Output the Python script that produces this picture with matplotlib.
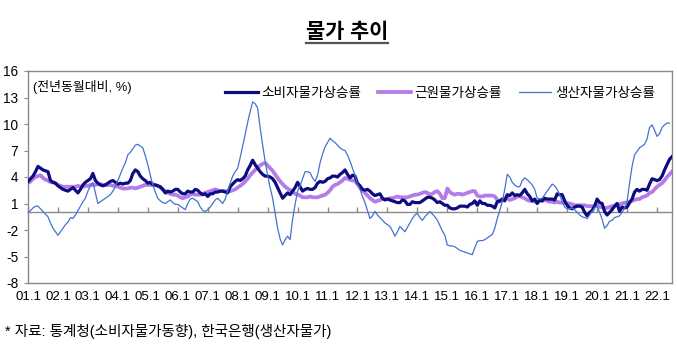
import matplotlib.pyplot as plt
import numpy as np
from matplotlib.lines import Line2D

plt.rcParams['font.family'] = ['Liberation Sans', 'Noto Sans CJK KR']
plt.rcParams['axes.unicode_minus'] = False

# monthly, year-on-year %, 2001.1 ~ 2022.7
cpi = [
    3.5, 3.8, 4.1, 4.6, 5.2, 5.0, 4.8, 4.7, 4.6, 3.6, 3.4, 3.3,   # 2001
    3.0, 2.8, 2.6, 2.5, 2.4, 2.6, 2.8, 2.5, 2.2, 2.6, 3.1, 3.4,   # 2002
    3.6, 3.8, 4.4, 3.6, 3.3, 3.1, 3.0, 3.1, 3.3, 3.5, 3.6, 3.4,   # 2003
    3.2, 3.3, 3.2, 3.3, 3.3, 3.6, 4.4, 4.8, 4.6, 4.1, 3.8, 3.6,   # 2004
    3.3, 3.4, 3.1, 3.1, 3.0, 2.9, 2.6, 2.2, 2.4, 2.3, 2.4, 2.6,   # 2005
    2.6, 2.3, 2.1, 2.1, 2.4, 2.3, 2.3, 2.6, 2.5, 2.2, 2.0, 2.1,   # 2006
    1.8, 2.1, 2.1, 2.3, 2.3, 2.4, 2.4, 2.3, 2.2, 2.9, 3.2, 3.5,   # 2007
    3.7, 3.6, 3.8, 4.1, 4.8, 5.3, 5.9, 5.4, 5.0, 4.6, 4.3, 4.1,   # 2008
    4.1, 4.0, 3.8, 3.4, 2.8, 2.2, 1.6, 1.9, 2.2, 2.0, 2.4, 2.8,   # 2009
    3.4, 2.9, 2.4, 2.6, 2.7, 2.6, 2.6, 2.8, 3.3, 3.5, 3.4, 3.5,   # 2010
    3.8, 3.9, 4.1, 4.1, 4.0, 4.3, 4.5, 4.8, 4.3, 3.9, 4.2, 4.1,   # 2011
    3.3, 3.0, 2.6, 2.5, 2.6, 2.4, 2.1, 1.9, 2.0, 2.1, 1.6, 1.4,   # 2012
    1.5, 1.4, 1.3, 1.2, 1.1, 1.1, 1.4, 1.3, 0.9, 0.9, 1.2, 1.1,   # 2013
    1.1, 1.1, 1.3, 1.5, 1.7, 1.7, 1.6, 1.4, 1.1, 1.2, 1.0, 0.8,   # 2014
    0.8, 0.5, 0.4, 0.4, 0.5, 0.7, 0.7, 0.7, 0.6, 0.9, 1.0, 1.3,   # 2015
    0.8, 1.3, 1.0, 1.0, 0.8, 0.8, 0.7, 0.5, 1.2, 1.3, 1.5, 1.3,   # 2016
    2.0, 1.9, 2.2, 1.9, 2.0, 1.9, 2.2, 2.6, 2.1, 1.8, 1.3, 1.5,   # 2017
    1.0, 1.4, 1.3, 1.6, 1.5, 1.5, 1.5, 1.4, 2.1, 2.0, 2.0, 1.3,   # 2018
    0.8, 0.5, 0.4, 0.6, 0.7, 0.7, 0.6, 0.0, -0.4, 0.0, 0.2, 0.7,  # 2019
    1.5, 1.1, 1.0, 0.1, -0.3, 0.0, 0.3, 0.7, 1.0, 0.1, 0.6, 0.5,  # 2020
    0.6, 1.1, 1.5, 2.3, 2.6, 2.4, 2.6, 2.6, 2.5, 3.2, 3.8, 3.7,   # 2021
    3.6, 3.7, 4.1, 4.8, 5.4, 6.0, 6.3,                            # 2022
]

core = [
    3.3, 3.5, 3.8, 4.0, 4.1, 4.2, 3.9, 3.7, 3.6, 3.4, 3.4, 3.3,   # 2001
    3.1, 3.0, 2.9, 2.9, 2.9, 2.9, 2.9, 2.9, 3.0, 2.9, 2.9, 3.0,   # 2002
    3.0, 3.1, 3.1, 3.1, 3.2, 3.2, 3.1, 3.1, 3.1, 3.1, 3.0, 3.0,   # 2003
    2.9, 2.8, 2.7, 2.7, 2.7, 2.8, 2.8, 2.7, 2.8, 2.9, 3.0, 3.1,   # 2004
    3.1, 3.1, 3.2, 3.1, 3.0, 2.8, 2.6, 2.4, 2.2, 2.1, 2.0, 2.0,   # 2005
    1.9, 1.7, 1.6, 1.7, 1.8, 2.0, 2.1, 2.0, 2.0, 2.0, 2.1, 2.2,   # 2006
    2.3, 2.4, 2.5, 2.6, 2.5, 2.4, 2.4, 2.4, 2.4, 2.4, 2.5, 2.6,   # 2007
    2.8, 3.0, 3.2, 3.5, 3.8, 4.2, 4.5, 4.8, 5.1, 5.3, 5.5, 5.6,   # 2008
    5.3, 5.0, 4.7, 4.3, 3.9, 3.5, 3.2, 2.9, 2.7, 2.5, 2.3, 2.1,   # 2009
    2.0, 1.9, 1.7, 1.7, 1.7, 1.8, 1.7, 1.7, 1.7, 1.8, 1.9, 2.0,   # 2010
    2.2, 2.5, 2.9, 3.1, 3.2, 3.4, 3.6, 3.9, 3.8, 3.7, 3.6, 3.6,   # 2011
    3.2, 2.8, 2.5, 2.2, 1.9, 1.6, 1.4, 1.2, 1.3, 1.4, 1.5, 1.5,   # 2012
    1.5, 1.6, 1.6, 1.7, 1.8, 1.7, 1.7, 1.7, 1.7, 1.8, 1.9, 2.0,   # 2013
    2.0, 2.1, 2.2, 2.3, 2.2, 2.0, 2.1, 2.3, 2.4, 2.1, 1.6, 1.6,   # 2014
    2.7, 2.3, 2.1, 2.0, 2.1, 2.1, 2.0, 2.1, 2.2, 2.3, 2.4, 2.4,   # 2015
    1.9, 1.8, 1.8, 1.9, 1.9, 1.9, 1.9, 1.8, 1.4, 1.2, 1.4, 1.6,   # 2016
    1.6, 1.4, 1.5, 1.6, 1.8, 1.8, 1.7, 1.6, 1.4, 1.3, 1.3, 1.2,   # 2017
    1.2, 1.3, 1.3, 1.4, 1.3, 1.2, 1.2, 1.1, 1.2, 1.1, 1.1, 1.1,   # 2018
    1.0, 1.0, 0.9, 0.8, 0.8, 0.8, 0.8, 0.8, 0.7, 0.7, 0.7, 0.7,   # 2019
    0.8, 0.6, 0.6, 0.5, 0.5, 0.6, 0.7, 0.7, 0.9, 0.9, 1.0, 1.1,   # 2020
    1.1, 1.2, 1.3, 1.4, 1.5, 1.5, 1.7, 1.8, 1.9, 2.2, 2.3, 2.6,   # 2021
    2.9, 3.1, 3.3, 3.6, 4.0, 4.3, 4.6,                            # 2022
]

# producer prices: one month shorter (to 2022.6)
ppi = [
    -0.1, 0.2, 0.5, 0.7, 0.7, 0.4, 0.1, -0.2, -0.5, -1.2, -1.8, -2.2,   # 2001
    -2.6, -2.2, -1.8, -1.4, -1.1, -0.6, -0.7, -0.3, 0.2, 0.7, 1.2, 1.6, # 2002
    2.4, 3.0, 3.4, 2.2, 1.0, 1.2, 1.4, 1.6, 1.8, 2.0, 2.4, 2.9,         # 2003
    3.6, 4.3, 5.0, 5.6, 6.5, 6.8, 7.2, 7.6, 7.7, 7.5, 7.3, 6.4,         # 2004
    5.4, 4.2, 3.1, 2.3, 1.6, 1.3, 1.1, 1.0, 1.2, 1.4, 1.1, 0.9,         # 2005
    0.9, 0.7, 0.5, 0.3, 1.0, 1.5, 1.6, 1.4, 1.2, 0.6, 0.2, 0.1,         # 2006
    0.3, 0.6, 1.0, 1.4, 1.6, 1.3, 1.0, 1.5, 2.4, 3.3, 4.1, 4.6,         # 2007
    5.0, 6.2, 7.5, 8.8, 10.2, 11.4, 12.5, 12.3, 11.8, 9.6, 7.6, 5.8,    # 2008
    4.2, 2.8, 1.6, -0.1, -1.8, -3.0, -3.7, -3.1, -2.7, -3.1, -0.8, 0.9, # 2009
    2.4, 3.0, 3.8, 4.6, 4.6, 4.5, 3.9, 3.5, 4.2, 5.6, 6.6, 7.4,         # 2010
    7.9, 8.4, 8.1, 7.9, 7.6, 7.3, 7.1, 7.0, 6.5, 5.8, 5.0, 4.2,         # 2011
    3.2, 2.6, 1.8, 1.1, 0.2, -0.7, -0.4, 0.1, -0.3, -0.6, -0.9, -1.2,   # 2012
    -1.4, -1.6, -2.1, -2.7, -2.2, -1.6, -1.9, -2.2, -1.7, -1.2, -0.7, -0.3,  # 2013
    -0.1, -0.6, -0.9, -0.5, -0.2, 0.1, -0.2, -0.5, -0.9, -1.5, -2.1, -2.6,   # 2014
    -3.7, -3.8, -3.8, -3.9, -4.1, -4.3, -4.4, -4.5, -4.6, -4.7, -4.8, -4.0,  # 2015
    -3.3, -3.2, -3.2, -3.1, -2.9, -2.7, -2.5, -1.8, -0.7, 0.2, 1.2, 2.6,     # 2016
    4.3, 4.0, 3.4, 3.1, 2.9, 2.9, 3.6, 3.9, 3.7, 3.4, 3.1, 2.6,         # 2017
    1.6, 1.5, 1.6, 2.0, 2.4, 2.8, 3.2, 3.0, 2.6, 2.0, 1.2, 0.6,         # 2018
    0.4, 0.4, 0.5, 0.3, 0.0, -0.3, -0.5, -0.6, -0.7, -0.3, 0.1, 0.5,    # 2019
    0.7, 0.0, -0.8, -1.8, -1.5, -1.0, -0.9, -0.6, -0.5, -0.4, 0.0, 0.5, # 2020
    1.2, 3.3, 5.2, 6.5, 6.9, 7.3, 7.5, 7.7, 8.3, 9.6, 9.9, 9.3,         # 2021
    8.6, 8.9, 9.6, 9.9, 10.1, 10.1,                                     # 2022
]

tick_labels = ['01.1', '02.1', '03.1', '04.1', '05.1', '06.1', '07.1', '08.1',
               '09.1', '10.1', '11.1', '12.1', '13.1', '14.1', '15.1', '16.1',
               '17.1', '18.1', '19.1', '20.1', '21.1', '22.1']

gray = '#8a8a8a'

fig = plt.figure(figsize=(6.77, 3.44), dpi=100)
ax = fig.add_axes([28 / 677, 1 - 283 / 344, 644 / 677, 212 / 344])

ax.plot(np.arange(len(cpi)), cpi, color='#0c0c80', lw=2.3, label='소비자물가상승률', zorder=3)
ax.plot(np.arange(len(core)), core, color='#b47ce8', lw=2.7, label='근원물가상승률', zorder=2)
ax.plot(np.arange(len(ppi)), ppi, color='#4472d0', lw=0.9, label='생산자물가상승률', zorder=4)

ax.set_xlim(0, len(cpi) - 1)
ax.set_ylim(-8, 16)
ax.set_yticks(range(-8, 17, 3))

xticks = np.arange(len(tick_labels)) * 12
ax.set_xticks(xticks, tick_labels)
ax.tick_params(axis='x', length=0, pad=6, labelsize=9.5)
ax.tick_params(axis='y', direction='out', length=3, color=gray, pad=4, labelsize=9.8)
for s in ax.spines.values():
    s.set_color(gray)
    s.set_linewidth(1.0)

# zero line with small tick marks
ymin, ymax = ax.get_ylim()
zax = ax.secondary_xaxis((0 - ymin) / (ymax - ymin))
zax.set_xticks(xticks, [''] * len(xticks))
zax.tick_params(direction='in', length=3.5, color=gray, width=1)
for s in zax.spines.values():
    s.set_color(gray)
    s.set_linewidth(1.0)

ax.legend(ncol=3, loc='center right', bbox_to_anchor=(0.974, 0.897), frameon=False,
          fontsize=9.8, handlelength=2.4, handletextpad=0.3, columnspacing=1.2,
          borderpad=0, borderaxespad=0)
ax.text(0.008, 0.925, '(전년동월대비, %)', transform=ax.transAxes, fontsize=9.3,
        ha='left', va='center')

title = fig.text(347 / 677, 1 - 32 / 344, '물가 추이', ha='center', va='center',
                 fontsize=15, fontweight='bold')
fig.text(5 / 677, 1 - 331 / 344, '* 자료: 통계청(소비자물가동향), 한국은행(생산자물가)',
         fontsize=10.5, ha='left', va='center')

# underline under the title
fig.canvas.draw()
bb = title.get_window_extent().transformed(fig.transFigure.inverted())
fig.add_artist(Line2D([bb.x0, bb.x1], [bb.y0 - 0.004, bb.y0 - 0.004],
                      transform=fig.transFigure, color='#555555', lw=1.6))

fig.savefig('out.png', dpi=100)
